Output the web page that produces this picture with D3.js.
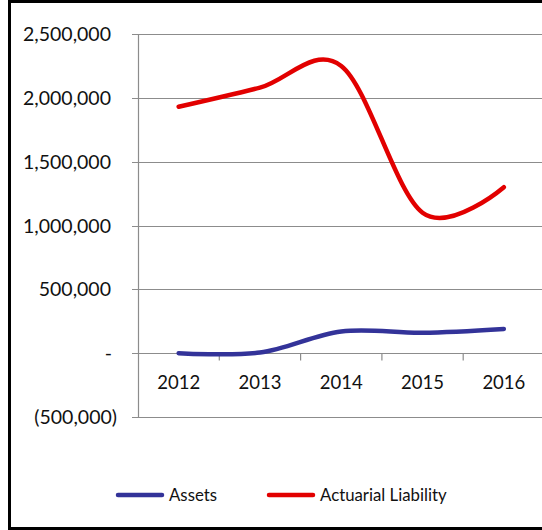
<!DOCTYPE html>
<html>
<head>
<meta charset="utf-8">
<script src="https://cdn.jsdelivr.net/npm/d3@7"></script>
<style>
    body { margin: 0; background: #fff; }
    svg text { font-family: Lato, 'Open Sans', sans-serif; fill: #111; }
</style>
</head>
<body>
<svg id="chart" width="542" height="530"></svg>
<script>
var years = ['2012', '2013', '2014', '2015', '2016'];
var assets = [0, 5000, 170000, 160000, 190000];
var liability = [1930000, 2080000, 2250000, 1100000, 1300000];
var yTicks = [-500000, 0, 500000, 1000000, 1500000, 2000000, 2500000];
var seriesNames = ['Assets', 'Actuarial Liability'];
var seriesColors = ['#333399', '#e20000'];

var svg = d3.select('#chart');
var plotLeft = 138;
var plotRight = 544.5;
var plotTop = 34;
var plotBottom = 417;

svg.append('rect')
    .attr('x', 9.5).attr('y', 1.5)
    .attr('width', 545).attr('height', 527)
    .attr('fill', 'none')
    .attr('stroke', '#000')
    .attr('stroke-width', 3);

var xScale = d3.scaleBand().domain(years).range([plotLeft, plotRight]);
var yScale = d3.scaleLinear().domain([-500000, 2500000]).range([plotBottom, plotTop]);

// gridlines + y ticks
svg.append('g')
    .selectAll('line')
    .data(yTicks)
    .enter()
    .append('line')
    .attr('x1', plotLeft - 6)
    .attr('x2', plotRight)
    .attr('y1', function (d) { return Math.round(yScale(d)) + 0.5; })
    .attr('y2', function (d) { return Math.round(yScale(d)) + 0.5; })
    .attr('stroke', '#8c8c8c')
    .attr('stroke-width', 1.2);

svg.append('line')
    .attr('x1', plotLeft + 0.5).attr('x2', plotLeft + 0.5)
    .attr('y1', plotTop).attr('y2', plotBottom + 1)
    .attr('stroke', '#8c8c8c')
    .attr('stroke-width', 1.2);

// category ticks on zero line
var zeroY = Math.round(yScale(0)) + 0.5;
svg.append('g')
    .selectAll('line')
    .data(years.slice(1))
    .enter()
    .append('line')
    .attr('x1', function (d) { return xScale(d); })
    .attr('x2', function (d) { return xScale(d); })
    .attr('y1', zeroY)
    .attr('y2', zeroY + 7)
    .attr('stroke', '#8c8c8c')
    .attr('stroke-width', 1.2);

svg.append('g')
    .selectAll('text')
    .data(yTicks)
    .enter()
    .append('text')
    .attr('text-anchor', 'end')
    .attr('x', function (d) { return d < 0 ? 117 : (d === 0 ? 112 : 111); })
    .attr('y', function (d) { return yScale(d) + 7; })
    .style('font-size', '19.5px')
    .text(function (d) {
        if (d === 0) return '-';
        var s = d3.format(',')(Math.abs(d));
        return d < 0 ? '(' + s + ')' : s;
    });

svg.append('g')
    .selectAll('text')
    .data(years)
    .enter()
    .append('text')
    .attr('text-anchor', 'middle')
    .attr('x', function (d) { return xScale(d) + xScale.bandwidth() / 2; })
    .attr('y', yScale(0) + 36)
    .style('font-size', '18.5px')
    .text(function (d) { return d; });

var line = d3.line()
    .x(function (d, i) { return xScale(years[i]) + xScale.bandwidth() / 2; })
    .y(function (d) { return yScale(d); })
    .curve(d3.curveCardinal.tension(0));

[assets, liability].forEach(function (values, i) {
    svg.append('path')
        .attr('d', line(values))
        .attr('fill', 'none')
        .attr('stroke', seriesColors[i])
        .attr('stroke-width', 4.5)
        .attr('stroke-linecap', 'round');
});

// legend
var legendX = [117, 268];
var legend = svg.append('g')
    .selectAll('g')
    .data(seriesNames)
    .enter()
    .append('g')
    .attr('transform', function (d, i) { return 'translate(' + legendX[i] + ',495)'; });
legend.append('line')
    .attr('x1', 1).attr('x2', 45)
    .attr('stroke', function (d, i) { return seriesColors[i]; })
    .attr('stroke-width', 4.5)
    .attr('stroke-linecap', 'round');
legend.append('text')
    .attr('x', 52)
    .attr('y', 6)
    .style('font-size', '16.8px')
    .text(function (d) { return d; });
</script>
</body>
</html>
